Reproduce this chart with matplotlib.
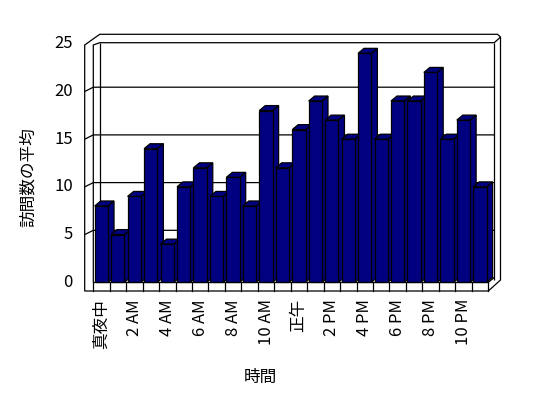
import matplotlib
matplotlib.use("Agg")
import matplotlib.pyplot as plt
from matplotlib.patches import Polygon

plt.rcParams['font.family'] = ['Noto Sans CJK JP', 'DejaVu Sans']

# ---- data ----
hours = list(range(24))
visits = [8, 5, 9, 14, 4, 10, 12, 9, 11, 8, 18, 12,
          16, 19, 17, 15, 24, 15, 19, 19, 22, 15, 17, 10]
tick_labels = ['真夜中', '2 AM', '4 AM', '6 AM', '8 AM', '10 AM',
               '正午', '2 PM', '4 PM', '6 PM', '8 PM', '10 PM']
y_ticks = [0, 5, 10, 15, 20, 25]
x_title = '時間'
y_title = '訪問数の平均'

# ---- layout (pixel geometry of the frame) ----
W, H = 548, 398
X0, PXC = 93.2, 16.46      # pixel x of category 0 boundary, px per category
Y0, PXV = 282.3, 9.54      # pixel y of value 0, px per value unit
FS = 12

fig = plt.figure(figsize=(W / 100, H / 100), dpi=100)
ax = fig.add_axes([0, 0, 1, 1])
ax.set_xlim(-X0 / PXC, (W - X0) / PXC)
ax.set_ylim((Y0 - H) / PXV, Y0 / PXV)
ax.axis('off')


def P(px, py):
    return ((px - X0) / PXC, (Y0 - py) / PXV)


def line(pts, **kw):
    xs, ys = zip(*[P(*p) for p in pts])
    ax.plot(xs, ys, color='black', lw=0.9, solid_capstyle='butt',
            solid_joinstyle='miter', **kw)


# outer frame
frame = [P(84.7, 291), P(488.3, 291), P(500.5, 280), P(500.5, 37),
         P(497.5, 34.3), P(99.7, 34.3), P(84.7, 45)]
ax.add_patch(Polygon(frame, closed=True, facecolor='white',
                     edgecolor='black', lw=0.9, zorder=1))
# inner wall lines
line([(93.3, 282.3), (93.3, 45), (99.7, 42.7), (494.3, 42.7), (500.5, 37)], zorder=2)
line([(99.7, 42.7), (99.7, 280)], zorder=2)
line([(494.3, 42.7), (494.3, 280)], zorder=2)
line([(488.3, 282.3), (494.3, 277.5)], zorder=2)

# gridlines on back wall + diagonal ticks on side wall
back_dy = 4.3
for v in y_ticks[1:-1]:
    yf = Y0 - PXV * v
    line([(84.7, yf), (93.3, yf - back_dy), (494.3, yf - back_dy)], zorder=2)

# floor strip with category ticks
line([(93.3, Y0), (488.3, Y0)], zorder=2)
for k in range(len(hours) + 1):
    ax.plot([k, k], [0, (Y0 - 291) / PXV], color='black', lw=0.9, zorder=2)

# bars
gap, w = 0.09, 0.81
ddx, ddy = 6 / PXC, 5 / PXV
navy = '#000080'
for i, v in zip(hours, visits):
    x0 = i + gap
    x1 = x0 + w
    front = [(x0, 0), (x1, 0), (x1, v), (x0, v)]
    side = [(x1, 0), (x1 + ddx, ddy), (x1 + ddx, v + ddy), (x1, v)]
    top = [(x0, v), (x1, v), (x1 + ddx, v + ddy), (x0 + ddx, v + ddy)]
    for poly in (side, top, front):
        ax.add_patch(Polygon(poly, closed=True, facecolor=navy,
                             edgecolor='black', lw=0.9, zorder=3 + i * 0.01,
                             joinstyle='miter'))

# y tick labels
for v in y_ticks:
    ax.text(*P(73, Y0 - PXV * v), str(v), ha='right', va='center',
            fontsize=FS, color='black')

# x tick labels (every other hour)
for k, lab in enumerate(tick_labels):
    ax.text(2 * k + 0.5, (Y0 - 299) / PXV, lab, rotation=90,
            ha='center', va='top', fontsize=FS, color='black')

ax.text(*P(260, 377), x_title, ha='center', va='center', fontsize=FS)
ax.text(*P(28, 177), y_title, rotation=90, ha='center', va='center',
        fontsize=FS)

fig.savefig('out.png', dpi=100, facecolor='white')
